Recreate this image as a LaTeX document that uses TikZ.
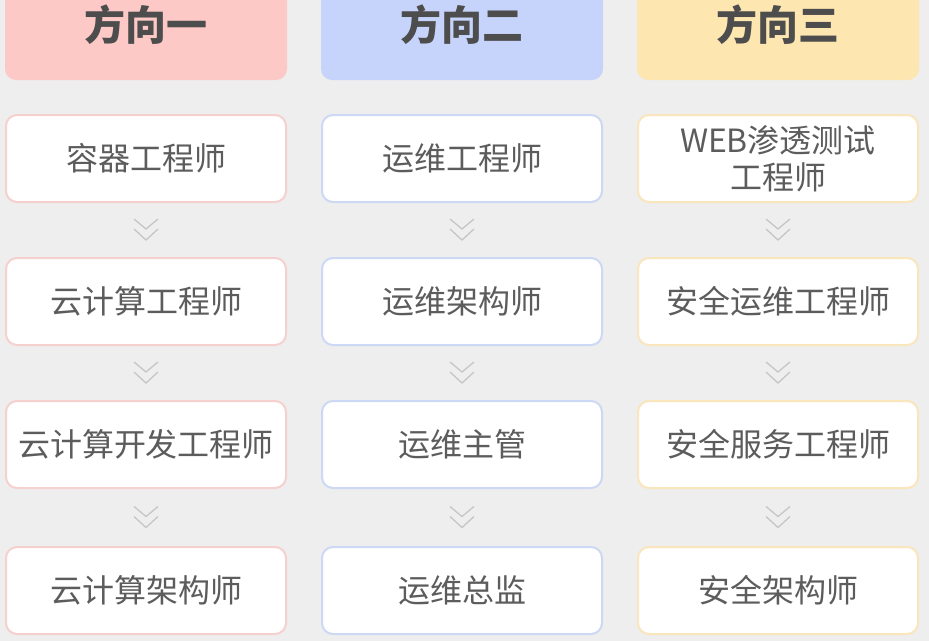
\documentclass[tikz,border=0pt]{standalone}
\usepackage{fontspec}
\setmainfont{Noto Sans CJK SC}
\usetikzlibrary{calc}
\definecolor{bg}{HTML}{EEEEEE}
\definecolor{hpink}{HTML}{FDC9C6}
\definecolor{hblue}{HTML}{C6D4FB}
\definecolor{hyel}{HTML}{FDE6B0}
\definecolor{bpink}{HTML}{F5D0CE}
\definecolor{bblue}{HTML}{CCD8F4}
\definecolor{byel}{HTML}{FAE6BC}
\definecolor{txt}{HTML}{5C5C5C}
\definecolor{htxt}{HTML}{4D4D4D}
\definecolor{chevc}{HTML}{C6C6C6}
\tikzset{
  hdr/.style={fill=#1, draw=none, rounded corners=11pt, minimum width=282pt, minimum height=110pt, inner sep=0pt, text=htxt, font=\fontsize{41}{44}\selectfont\bfseries},
  card/.style={fill=white, draw=#1, line width=2pt, rounded corners=11pt, minimum width=280pt, minimum height=87pt, inner sep=0pt, text=txt, align=center, font=\fontsize{32}{37}\selectfont},
  chev/.style={draw=chevc, line width=1.3pt}
}
\newcommand\dchev[2]{%
  \coordinate (m) at ($(#1.south)!0.5!(#2.north)$);
  \draw[chev] ([shift={(-12,-11)}]m) -- ([shift={(0,-1)}]m) -- ([shift={(12,-11)}]m);
  \draw[chev] ([shift={(-12,-1)}]m) -- ([shift={(0,10)}]m) -- ([shift={(12,-1)}]m);
}
\begin{document}
\begin{tikzpicture}[x=1pt,y=-1pt]
\useasboundingbox (0,0) rectangle (929,641);
\clip (0,0) rectangle (929,641);
\fill[bg] (0,0) rectangle (929,641);
% headers
\node[hdr=hpink] (h1) at (146,25) {方向一};
\node[hdr=hblue] (h2) at (462,25) {方向二};
\node[hdr=hyel]  (h3) at (778,25) {方向三};
% column 1
\node[card=bpink] (a1) at (146,158.5) {容器工程师};
\node[card=bpink] (a2) at (146,301.5) {云计算工程师};
\node[card=bpink] (a3) at (146,444.5) {云计算开发工程师};
\node[card=bpink] (a4) at (146,590.5) {云计算架构师};
% column 2
\node[card=bblue] (b1) at (462,158.5) {运维工程师};
\node[card=bblue] (b2) at (462,301.5) {运维架构师};
\node[card=bblue] (b3) at (462,444.5) {运维主管};
\node[card=bblue] (b4) at (462,590.5) {运维总监};
% column 3
\node[card=byel] (c1) at (778,158.5) {WEB渗透测试\\工程师};
\node[card=byel] (c2) at (778,301.5) {安全运维工程师};
\node[card=byel] (c3) at (778,444.5) {安全服务工程师};
\node[card=byel] (c4) at (778,590.5) {安全架构师};
% chevrons
\dchev{a1}{a2}\dchev{a2}{a3}\dchev{a3}{a4}
\dchev{b1}{b2}\dchev{b2}{b3}\dchev{b3}{b4}
\dchev{c1}{c2}\dchev{c2}{c3}\dchev{c3}{c4}
\end{tikzpicture}
\end{document}
